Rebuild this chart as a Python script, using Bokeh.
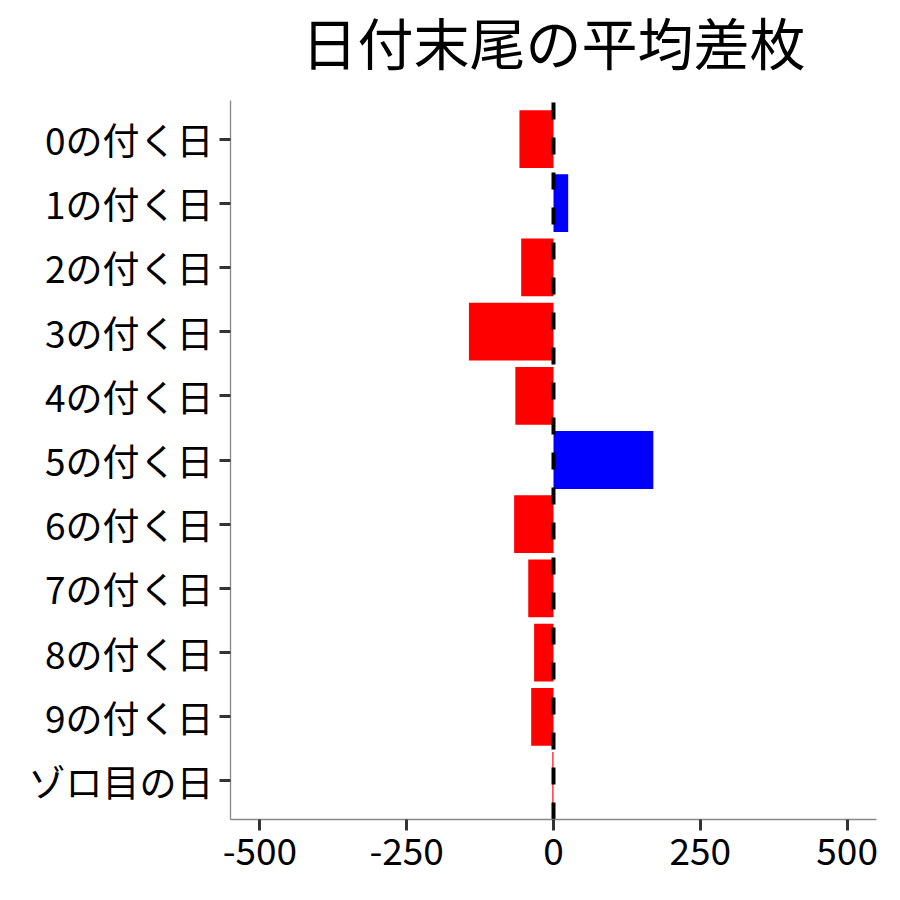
from bokeh.plotting import figure
from bokeh.models import Range1d, FixedTicker, ColumnDataSource, Label
from bokeh.embed import file_html
from bokeh.resources import INLINE

categories = ["0の付く日", "1の付く日", "2の付く日", "3の付く日", "4の付く日",
              "5の付く日", "6の付く日", "7の付く日", "8の付く日", "9の付く日", "ゾロ目の日"]
values = [-58, 25, -55, -144, -65, 170, -67, -43, -33, -38, -2]
x_ticks = [-500, -250, 0, 250, 500]
x_tick_labels = ["-500", "-250", "0", "250", "500"]
title_text = "日付末尾の平均差枚"

n = len(categories)
ypos = [n - 1 - i for i in range(n)]          # first category on top
colors = ["#0000FF" if v > 0 else "#FF0000" for v in values]
src = ColumnDataSource(dict(y=ypos, val=values, color=colors))

FONT = "Noto Sans CJK JP"

# panel geometry (pixels)
W, H = 884, 884
PANEL_TOP, PANEL_BOTTOM = 100, 819
pad = 0.6
y_lo, y_hi = -pad, n - 1 + pad
ppu = (PANEL_BOTTOM - PANEL_TOP) / (y_hi - y_lo)
y_end = y_hi + PANEL_TOP / ppu             # frame reaches to canvas top so the title fits

p = figure(width=W, height=H, output_backend="svg", toolbar_location=None,
           x_range=Range1d(-550, 550), y_range=Range1d(y_lo, y_end),
           min_border_left=230, min_border_right=8, min_border_top=0,
           min_border_bottom=H - PANEL_BOTTOM)

p.hbar(y="y", left=0, right="val", height=0.9, color="color", source=src, line_color=None)

# dashed zero line
p.segment(x0=[0], y0=[y_lo], x1=[0], y1=[y_hi], line_color="black", line_width=4,
          line_dash="17 18")

# title
p.add_layout(Label(x=0, y=y_lo + (PANEL_BOTTOM - 40) / ppu, text=title_text,
                   text_font=FONT, text_font_size="56px", text_color="black",
                   text_align="center", text_baseline="middle"))

p.xgrid.visible = False
p.ygrid.visible = False
p.outline_line_color = None
p.background_fill_color = "white"
p.border_fill_color = "white"

p.xaxis.ticker = FixedTicker(ticks=x_ticks)
p.xaxis.major_label_overrides = {t: l for t, l in zip(x_ticks, x_tick_labels)}
p.yaxis.ticker = FixedTicker(ticks=ypos)
p.yaxis.major_label_overrides = {y: c for y, c in zip(ypos, categories)}
p.yaxis.bounds = (y_lo, y_hi)

for ax in (p.xaxis[0], p.yaxis[0]):
    ax.axis_line_color = "#888888"
    ax.axis_line_width = 1.3
    ax.major_tick_line_color = "#333333"
    ax.major_tick_line_width = 3
    ax.major_tick_out = 11
    ax.major_tick_in = 0
    ax.minor_tick_line_color = None
    ax.major_label_text_font = FONT
    ax.major_label_text_font_size = "37px"
    ax.major_label_text_color = "black"
p.xaxis.major_label_standoff = 7
p.yaxis.major_label_standoff = 6

open("out.html", "w").write(file_html(p, INLINE))
